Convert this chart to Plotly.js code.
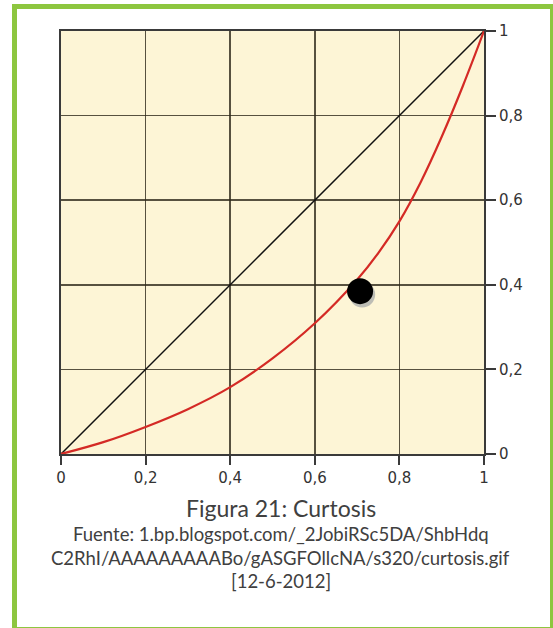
<!DOCTYPE html>
<html>
<head>
<meta charset="utf-8">
<script src="https://cdn.plot.ly/plotly-3.0.1.min.js"></script>
<style>
html,body{margin:0;padding:0;background:#fff;}
#wrap{position:relative;width:553px;height:628px;}
#chart{position:absolute;left:0;top:0;width:553px;height:628px;}
#frame{position:absolute;left:12px;top:4px;width:533px;height:618px;border:5px solid #8dc63f;pointer-events:none;}
</style>
</head>
<body>
<div id="wrap"><div id="chart"></div><div id="frame"></div></div>
<script>
// Data
const curveX = [0, 0.1, 0.2, 0.3, 0.4, 0.5, 0.6, 0.7, 0.75, 0.8, 0.85, 0.9, 0.95, 1];
const curveY = [0, 0.028, 0.064, 0.106, 0.158, 0.226, 0.309, 0.412, 0.475, 0.55, 0.642, 0.75, 0.87, 1];
const diagX = [0, 1];
const diagY = [0, 1];
const pointX = [0.707];
const pointY = [0.385];
const tickVals = [0, 0.2, 0.4, 0.6, 0.8, 1];
const tickText = ["0", "0,2", "0,4", "0,6", "0,8", "1"];
const captionTitle = "Figura 21: Curtosis";
const captionLines = [
  "Fuente: 1.bp.blogspot.com/_2JobiRSc5DA/ShbHdq",
  "C2RhI/AAAAAAAAABo/gASGFOllcNA/s320/curtosis.gif",
  "[12-6-2012]"
];

// Layout helpers (pixel -> paper)
const plotTop = 31, plotBottom = 454;
const py = p => (plotBottom - p) / (plotBottom - plotTop);
const captionFont = '"Lato", "Open Sans", sans-serif';

const traces = [
  {x: diagX, y: diagY, mode: 'lines', line: {color: '#111', width: 1.5}, hoverinfo: 'skip'},
  {x: curveX, y: curveY, mode: 'lines', line: {color: '#d42a25', width: 2.2, shape: 'spline', smoothing: 1}, hoverinfo: 'skip'},
  {x: [pointX[0] + 0.005], y: [pointY[0] - 0.008], mode: 'markers', marker: {size: 26, color: '#bdbdb5'}, hoverinfo: 'skip'},
  {x: pointX, y: pointY, mode: 'markers', marker: {size: 26, color: '#000'}, hoverinfo: 'skip'}
];

const axisCommon = {
  range: [0, 1],
  tickvals: tickVals,
  ticktext: tickText,
  showgrid: true,
  gridcolor: 'rgba(45,40,25,0.8)',
  gridwidth: 1.6,
  zeroline: false,
  showline: true,
  mirror: true,
  linecolor: '#3a3a3a',
  linewidth: 2,
  ticks: 'outside',
  tickcolor: '#3a3a3a',
  tickwidth: 2,
  tickfont: {family: '"DejaVu Sans", sans-serif', size: 15, color: '#333'},
  fixedrange: true
};

const annotations = [
  {text: captionTitle, x: 0.52, y: py(508), xref: 'paper', yref: 'paper', showarrow: false,
   xanchor: 'center', yanchor: 'middle', font: {family: captionFont, size: 23, color: '#404040'}}
];
const lineYs = [534, 557.5, 581];
captionLines.forEach((t, i) => annotations.push({
  text: t, x: 0.52, y: py(lineYs[i]), xref: 'paper', yref: 'paper', showarrow: false,
  xanchor: 'center', yanchor: 'middle', font: {family: captionFont, size: 18.5, color: '#404040'}
}));

const layout = {
  width: 553, height: 628,
  margin: {l: 61, r: 69, t: plotTop, b: 628 - plotBottom, pad: 0},
  paper_bgcolor: '#ffffff',
  plot_bgcolor: '#fdf5d6',
  showlegend: false,
  xaxis: Object.assign({}, axisCommon, {ticklen: 9}),
  yaxis: Object.assign({}, axisCommon, {side: 'right', ticklen: 10}),
  annotations: annotations
};

Plotly.newPlot('chart', traces, layout, {displayModeBar: false, staticPlot: true});
</script>
</body>
</html>
